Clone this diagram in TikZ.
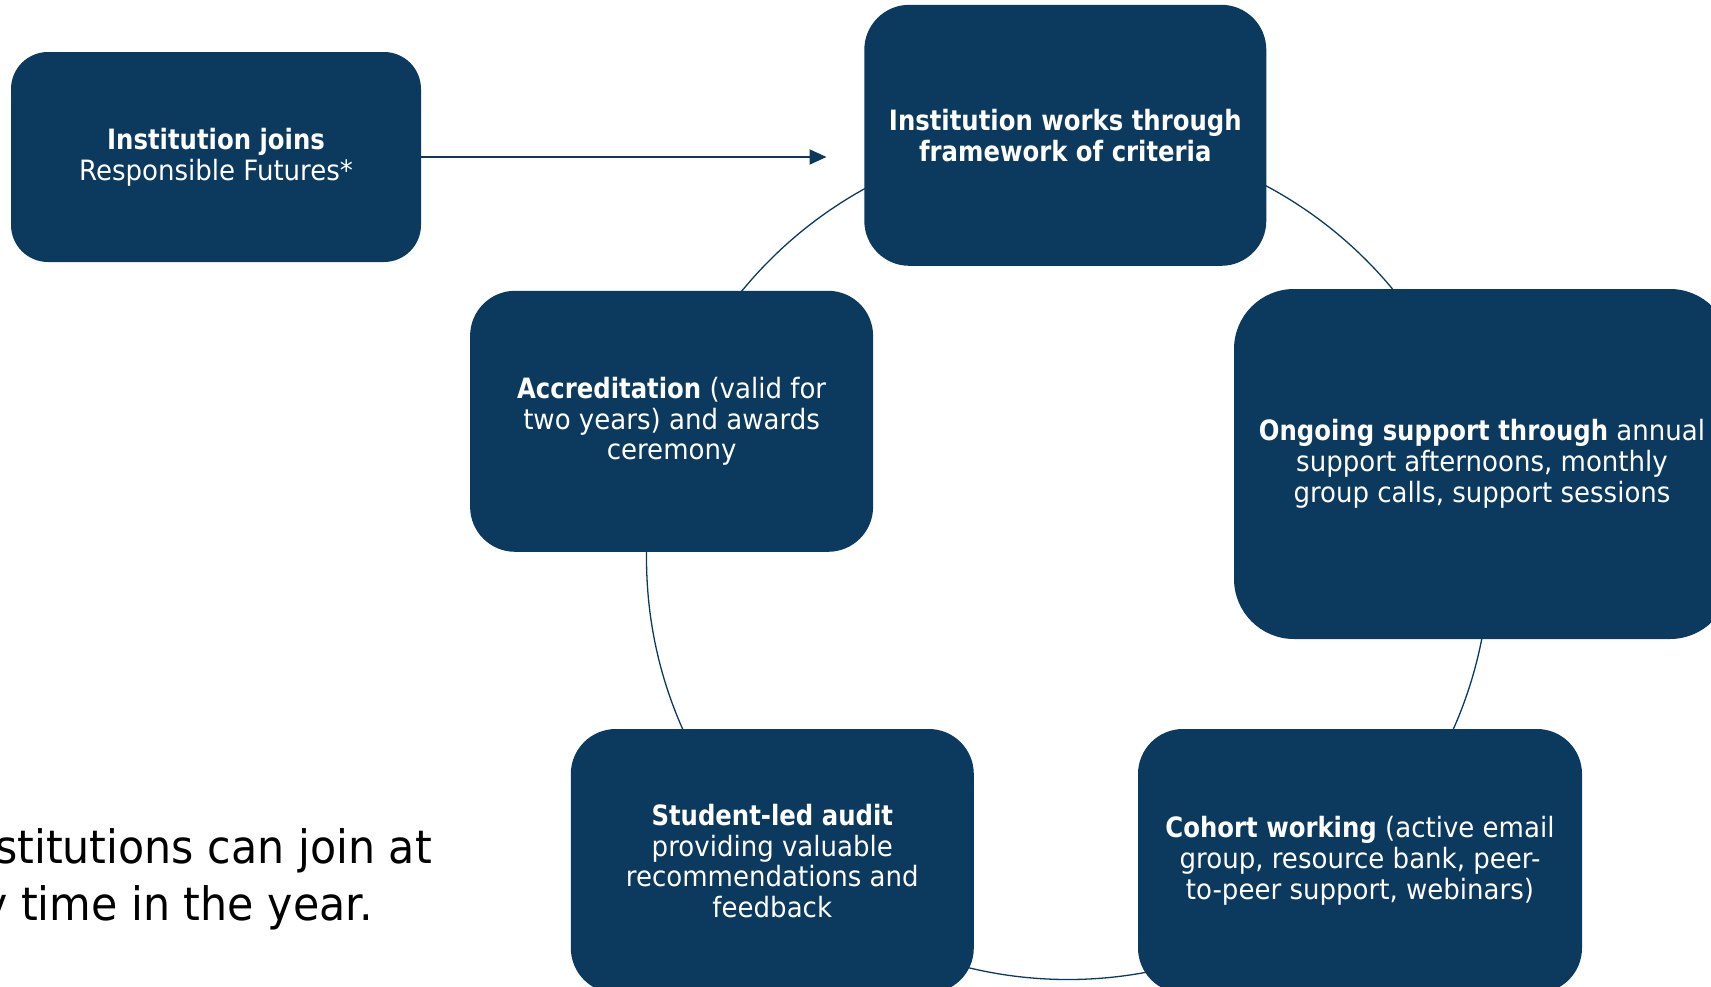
\documentclass[tikz,border=0pt]{standalone}
\usepackage{fontspec}
\setmainfont{DejaVu Sans}[FakeStretch=0.93, BoldFeatures={FakeStretch=0.87}]
\usetikzlibrary{arrows.meta}
\definecolor{navy}{RGB}{11,58,94}
\begin{document}
\begin{tikzpicture}[x=1pt,y=-1pt,
  box/.style={fill=navy, text=white, align=center, inner sep=0pt,
    font=\fontsize{28}{30.9}\selectfont},
  ring/.style={draw=navy, line width=1.3pt},
  flow/.style={draw=navy, line width=2pt, -{Triangle[length=17pt,width=15pt]}},
  note/.style={anchor=base east, inner sep=0pt, text=black, font=\fontsize{46}{55}\selectfont}]
\useasboundingbox (0,0) rectangle (1711,986);
\draw[ring] (1068,558) circle[radius=421.5pt];
\node[box, minimum width=410pt, minimum height=210pt, rounded corners=37pt] (join) at (216,157)
  {\textbf{Institution joins}\\Responsible Futures*};
\node[box, minimum width=402pt, minimum height=261pt, rounded corners=45pt] (works) at (1065.3,135.3)
  {\textbf{Institution works through}\\\textbf{framework of criteria}};
\node[box, minimum width=496pt, minimum height=350pt, rounded corners=60pt] (support) at (1482,464)
  {\textbf{Ongoing support through} annual\\support afternoons, monthly\\group calls, support sessions};
\node[box, minimum width=444pt, minimum height=264pt, rounded corners=45pt] (cohort) at (1360,861)
  {\textbf{Cohort working} (active email\\group, resource bank, peer-\\to-peer support, webinars)};
\node[box, minimum width=403pt, minimum height=264pt, rounded corners=45pt] (audit) at (772.3,861)
  {\textbf{Student-led audit}\\providing valuable\\recommendations and\\feedback};
\node[box, minimum width=403pt, minimum height=261pt, rounded corners=45pt] (accr) at (671.6,421.3)
  {\textbf{Accreditation} (valid for\\two years) and awards\\ceremony};
\coordinate (tip) at (826.5,157);
\draw[flow] (join.east) -- (tip);
\node[note] (note1) at (432,863) {Institutions can join at};
\node[note] (note2) at (373,920) {any time in the year.};
\end{tikzpicture}
\end{document}
